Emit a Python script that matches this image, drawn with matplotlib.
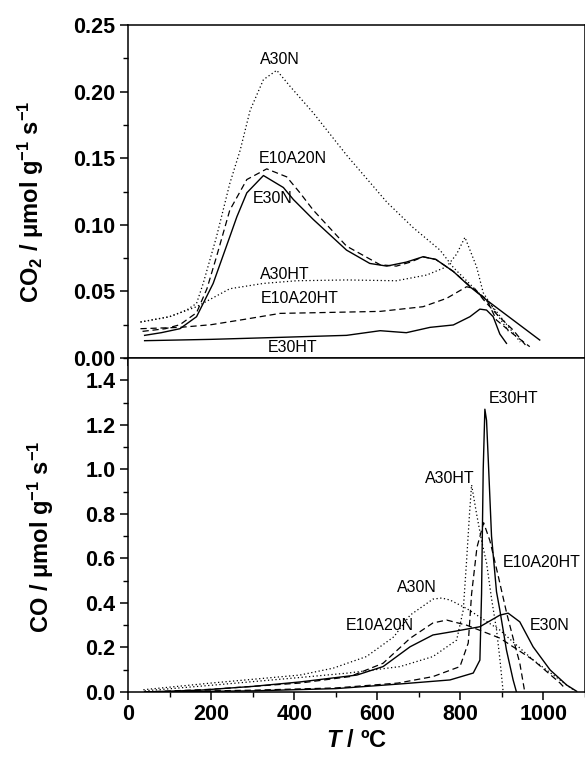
import numpy as np
import matplotlib
matplotlib.use('Agg')
import matplotlib.pyplot as plt
from matplotlib.ticker import MultipleLocator

plt.rcParams['font.family'] = ['Liberation Sans', 'DejaVu Sans']
plt.rcParams['mathtext.fontset'] = 'custom'
plt.rcParams['mathtext.rm'] = 'Liberation Sans'
plt.rcParams['mathtext.it'] = 'Liberation Sans:italic'
plt.rcParams['mathtext.bf'] = 'Liberation Sans:bold'
plt.rcParams['mathtext.bfit'] = 'Liberation Sans:italic:bold'
plt.rcParams['mathtext.default'] = 'regular'

# ---- CO2 panel (top) ----
co2_a30n_T = [30, 100, 141, 165, 181, 213, 245, 270, 294, 326, 358, 390, 446, 527, 623, 686, 751, 783, 831, 879, 927, 944]
co2_a30n = [0.027, 0.031, 0.036, 0.041, 0.056, 0.091, 0.131, 0.156, 0.186, 0.209, 0.216, 0.204, 0.184, 0.152, 0.117, 0.098, 0.081, 0.068, 0.053, 0.038, 0.019, 0.012]

co2_a30ht_T = [30, 100, 165, 245, 326, 406, 526, 646, 719, 767, 791, 811, 839, 855, 887, 919]
co2_a30ht = [0.027, 0.031, 0.0385, 0.052, 0.056, 0.058, 0.0586, 0.058, 0.0623, 0.0685, 0.078, 0.0906, 0.0685, 0.049, 0.0335, 0.0186]

co2_e10a20n_T = [35, 90, 125, 165, 190, 213, 245, 286, 334, 382, 414, 446, 526, 607, 646, 680, 710, 741, 783, 823, 863, 887, 927, 967]
co2_e10a20n = [0.020, 0.022, 0.025, 0.034, 0.052, 0.076, 0.111, 0.134, 0.142, 0.136, 0.124, 0.111, 0.084, 0.070, 0.069, 0.072, 0.076, 0.074, 0.065, 0.054, 0.044, 0.0285, 0.018, 0.0085]

co2_e30n_T = [40, 80, 125, 165, 205, 245, 262, 286, 326, 374, 398, 446, 526, 582, 623, 670, 710, 741, 783, 823, 863, 927, 991]
co2_e30n = [0.017, 0.019, 0.022, 0.031, 0.056, 0.091, 0.106, 0.124, 0.137, 0.128, 0.119, 0.104, 0.081, 0.071, 0.069, 0.072, 0.076, 0.074, 0.065, 0.0535, 0.0435, 0.0285, 0.0135]

co2_e10a20ht_T = [30, 125, 200, 280, 366, 450, 607, 710, 767, 815, 835, 855, 890, 927, 960]
co2_e10a20ht = [0.022, 0.023, 0.025, 0.029, 0.0335, 0.034, 0.035, 0.0385, 0.0448, 0.0535, 0.052, 0.044, 0.032, 0.021, 0.0085]

co2_e30ht_T = [40, 200, 366, 526, 607, 670, 727, 783, 823, 847, 863, 879, 895, 911]
co2_e30ht = [0.013, 0.014, 0.0155, 0.017, 0.0205, 0.019, 0.023, 0.0248, 0.031, 0.0367, 0.036, 0.031, 0.018, 0.011]

# ---- CO panel (bottom) ----
co_a30n_T = [37, 200, 414, 494, 574, 640, 679, 734, 755, 775, 815, 895, 975, 1056, 1072]
co_a30n = [0.01, 0.04, 0.076, 0.107, 0.159, 0.248, 0.345, 0.417, 0.422, 0.413, 0.375, 0.278, 0.144, 0.031, 0.01]

co_e10a20n_T = [40, 200, 414, 534, 614, 679, 734, 767, 815, 895, 975, 1040, 1050]
co_e10a20n = [0.0, 0.012, 0.04, 0.069, 0.129, 0.241, 0.31, 0.323, 0.30, 0.242, 0.144, 0.04, 0.02]

co_e30n_T = [40, 173, 300, 414, 551, 614, 679, 734, 791, 847, 895, 915, 943, 975, 1016, 1056, 1080]
co_e30n = [0.0, 0.008, 0.025, 0.045, 0.076, 0.114, 0.203, 0.256, 0.274, 0.293, 0.345, 0.354, 0.315, 0.203, 0.099, 0.031, 0.003]

co_a30ht_T = [40, 200, 414, 530, 655, 734, 791, 807, 815, 822, 827, 839, 851, 863, 875, 887, 895, 903]
co_a30ht = [0.005, 0.03, 0.065, 0.085, 0.114, 0.159, 0.233, 0.368, 0.59, 0.80, 0.93, 0.80, 0.68, 0.58, 0.42, 0.28, 0.15, 0.0]

co_e10a20ht_T = [40, 300, 500, 650, 734, 799, 819, 827, 840, 856, 871, 890, 912, 930, 943, 955]
co_e10a20ht = [0.0, 0.008, 0.018, 0.04, 0.069, 0.114, 0.22, 0.44, 0.65, 0.76, 0.68, 0.53, 0.35, 0.22, 0.13, 0.0]

co_e30ht_T = [40, 300, 500, 655, 775, 831, 847, 851, 855, 859, 863, 867, 875, 887, 895, 911, 927, 935]
co_e30ht = [0.0, 0.005, 0.015, 0.036, 0.054, 0.085, 0.143, 0.44, 1.0, 1.27, 1.22, 1.05, 0.70, 0.45, 0.368, 0.188, 0.054, 0.0]

top_labels = [('A30N', 366, 0.224), ('E10A20N', 397, 0.150), ('E30N', 347, 0.120),
              ('A30HT', 378, 0.063), ('E10A20HT', 414, 0.045), ('E30HT', 395, 0.008)]
bottom_labels = [('E30HT', 927, 1.32), ('A30HT', 775, 0.96), ('E10A20HT', 996, 0.58),
                 ('A30N', 695, 0.47), ('E10A20N', 606, 0.30), ('E30N', 1016, 0.30)]

dotted = (0, (1, 2))
dashed = (0, (5, 3))

fig = plt.figure(figsize=(5.85, 7.63), dpi=100)
ax1 = fig.add_axes([0.2188, 0.5308, 0.7812, 0.4364])
ax2 = fig.add_axes([0.2188, 0.0931, 0.7812, 0.4377])

# top panel
ax1.plot(co2_a30n_T, co2_a30n, color='k', ls=dotted, lw=0.9)
ax1.plot(co2_a30ht_T, co2_a30ht, color='k', ls=dotted, lw=0.9)
ax1.plot(co2_e10a20n_T, co2_e10a20n, color='k', ls=dashed, lw=0.9)
ax1.plot(co2_e10a20ht_T, co2_e10a20ht, color='k', ls=dashed, lw=0.9)
ax1.plot(co2_e30n_T, co2_e30n, color='k', ls='-', lw=1.0)
ax1.plot(co2_e30ht_T, co2_e30ht, color='k', ls='-', lw=1.0)
for name, x, y in top_labels:
    ax1.text(x, y, name, ha='center', va='center', fontsize=11.5)

ax1.set_xlim(0, 1100)
ax1.set_ylim(0, 0.25)
ax1.set_yticks([0.00, 0.05, 0.10, 0.15, 0.20, 0.25])
ax1.set_yticklabels(['0.00', '0.05', '0.10', '0.15', '0.20', '0.25'])
ax1.yaxis.set_minor_locator(MultipleLocator(0.025))

# bottom panel
ax2.plot(co_a30n_T, co_a30n, color='k', ls=dotted, lw=0.9)
ax2.plot(co_a30ht_T, co_a30ht, color='k', ls=dotted, lw=0.9)
ax2.plot(co_e10a20n_T, co_e10a20n, color='k', ls=dashed, lw=0.9)
ax2.plot(co_e10a20ht_T, co_e10a20ht, color='k', ls=dashed, lw=0.9)
ax2.plot(co_e30n_T, co_e30n, color='k', ls='-', lw=1.0)
ax2.plot(co_e30ht_T, co_e30ht, color='k', ls='-', lw=1.0)
for name, x, y in bottom_labels:
    ax2.text(x, y, name, ha='center', va='center', fontsize=11.5)

ax2.set_xlim(0, 1100)
ax2.set_ylim(0, 1.5)
ax2.set_yticks(np.arange(0, 1.41, 0.2))
ax2.set_yticklabels(['0.0', '0.2', '0.4', '0.6', '0.8', '1.0', '1.2', '1.4'])
ax2.yaxis.set_minor_locator(MultipleLocator(0.1))

for ax in (ax1, ax2):
    ax.xaxis.set_major_locator(MultipleLocator(200))
    ax.xaxis.set_minor_locator(MultipleLocator(100))
    for s in ax.spines.values():
        s.set_linewidth(1.1)
    ax.tick_params(axis='both', which='major', direction='out', length=6, width=1.1)
    ax.tick_params(axis='both', which='minor', direction='out', length=3.5, width=1.0)
    ax.tick_params(labelsize=15.5, pad=3)
    for lab in ax.get_xticklabels() + ax.get_yticklabels():
        lab.set_fontweight('bold')

ax2.set_xticks([0, 200, 400, 600, 800, 1000])
for lab in ax2.get_xticklabels():
    lab.set_fontweight('bold')
ax1.tick_params(axis='x', which='both', labelbottom=False)

fig.text(0.053, 0.735, r'CO$_2$ / $\mu$mol g$^{-1}$ s$^{-1}$', rotation=90,
         ha='center', va='center', fontsize=17, fontweight='bold')
fig.text(0.070, 0.296, r'CO / $\mu$mol g$^{-1}$ s$^{-1}$', rotation=90,
         ha='center', va='center', fontsize=17, fontweight='bold')
fig.text(0.61, 0.030, r'$\mathbfit{T}$ / ºC', ha='center', va='center',
         fontsize=17, fontweight='bold')

fig.savefig('out.png', dpi=100)
